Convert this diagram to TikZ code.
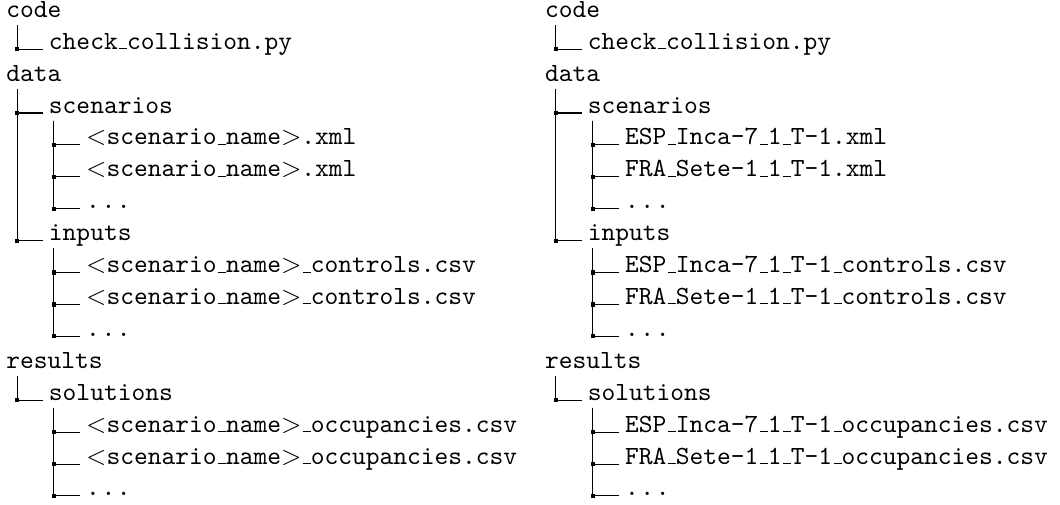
\documentclass[tikz,border=0pt]{standalone}
\usetikzlibrary{positioning}

% short low underscore, dots and the name placeholder
\newcommand{\us}{\leavevmode\kern.06em\vbox{\hrule width.3em}}
\newcommand{\etc}{.\kern.6pt.\kern.6pt.}
\newcommand{\sname}{$<$scenario\us name$>$}
% parent -> child branch with a square at the corner
\newcommand{\twig}[3]{%
  \draw ([xshift=#3,yshift=-2.9pt]#1.base west) |- node[junc] {}
        ([xshift=-2.2pt]#2.base west);}

\begin{document}
\begin{tikzpicture}[
    x=1pt, y=-12.18pt,
    entry/.style={anchor=base west, inner sep=0pt, font=\ttfamily},
    junc/.style={fill, inner sep=0pt, minimum size=1.6pt}
  ]
  \useasboundingbox (0,-0.542) rectangle (404.6,15.27);

  % generic layout
  \node[entry] (lcode)  at (2.2,0)  {code};
  \node[entry] (lcheck) at (18.5,1) {check\us collision.py};
  \node[entry] (ldata)  at (2.2,2)  {data};
  \node[entry] (lscen)  at (18.5,3) {scenarios};
  \node[entry] (lsa)    at (32.7,4) {\sname.xml};
  \node[entry] (lsb)    at (32.7,5) {\sname.xml};
  \node[entry] (lsc)    at (32.7,6) {\etc};
  \node[entry] (linp)   at (18.5,7) {inputs};
  \node[entry] (lia)    at (32.7,8) {\sname\us controls.csv};
  \node[entry] (lib)    at (32.7,9) {\sname\us controls.csv};
  \node[entry] (lic)    at (32.7,10) {\etc};
  \node[entry] (lres)   at (2.2,11) {results};
  \node[entry] (lsol)   at (18.5,12) {solutions};
  \node[entry] (loa)    at (32.7,13) {\sname\us occupancies.csv};
  \node[entry] (lob)    at (32.7,14) {\sname\us occupancies.csv};
  \node[entry] (loc)    at (32.7,15) {\etc};

  % example instances
  \begin{scope}[xshift=205.7pt]
    \node[entry] (rcode)  at (2.2,0)  {code};
    \node[entry] (rcheck) at (18.5,1) {check\us collision.py};
    \node[entry] (rdata)  at (2.2,2)  {data};
    \node[entry] (rscen)  at (18.5,3) {scenarios};
    \node[entry] (rsa)    at (32.7,4) {ESP\us Inca-7\us 1\us T-1.xml};
    \node[entry] (rsb)    at (32.7,5) {FRA\us Sete-1\us 1\us T-1.xml};
    \node[entry] (rsc)    at (32.7,6) {\etc};
    \node[entry] (rinp)   at (18.5,7) {inputs};
    \node[entry] (ria)    at (32.7,8) {ESP\us Inca-7\us 1\us T-1\us controls.csv};
    \node[entry] (rib)    at (32.7,9) {FRA\us Sete-1\us 1\us T-1\us controls.csv};
    \node[entry] (ric)    at (32.7,10) {\etc};
    \node[entry] (rres)   at (2.2,11) {results};
    \node[entry] (rsol)   at (18.5,12) {solutions};
    \node[entry] (roa)    at (32.7,13) {ESP\us Inca-7\us 1\us T-1\us occupancies.csv};
    \node[entry] (rob)    at (32.7,14) {FRA\us Sete-1\us 1\us T-1\us occupancies.csv};
    \node[entry] (roc)    at (32.7,15) {\etc};
  \end{scope}

  % branches
  \foreach \t in {l,r} {
    \twig{\t code}{\t check}{4.3pt}
    \twig{\t data}{\t scen}{4.3pt}
    \twig{\t data}{\t inp}{4.3pt}
    \twig{\t res}{\t sol}{4.3pt}
    \foreach \c in {a,b,c} {
      \twig{\t scen}{\t s\c}{2.1pt}
      \twig{\t inp}{\t i\c}{2.1pt}
      \twig{\t sol}{\t o\c}{2.1pt}
    }
  }
\end{tikzpicture}
\end{document}
